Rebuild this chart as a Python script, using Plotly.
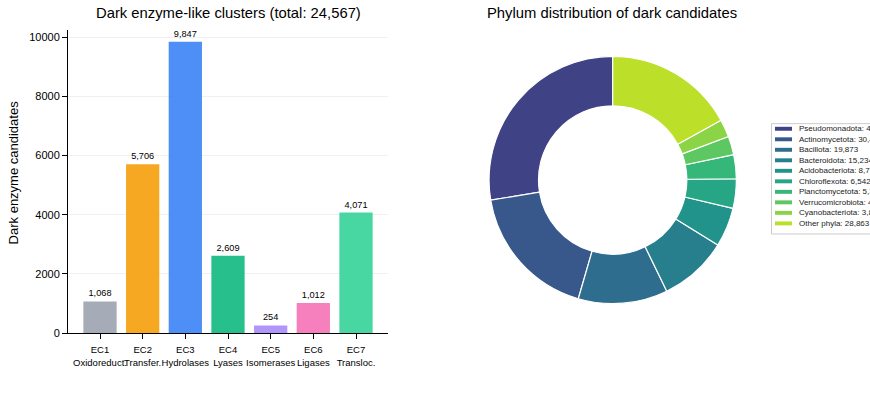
import plotly.graph_objects as go
from plotly.colors import sample_colorscale
import numpy as np

# ---------------- data ----------------
ec_codes = ["EC1", "EC2", "EC3", "EC4", "EC5", "EC6", "EC7"]
ec_names = ["Oxidoreduct.", "Transfer.", "Hydrolases", "Lyases", "Isomerases", "Ligases", "Transloc."]
ec_counts = [1068, 5706, 9847, 2609, 254, 1012, 4071]
ec_colors = ["#9CA3AF", "#F59E0B", "#3B82F6", "#10B981", "#A78BFA", "#F472B6", "#34D399"]
y_ticks = [0, 2000, 4000, 6000, 8000, 10000]

phyla = ["Pseudomonadota", "Actinomycetota", "Bacillota", "Bacteroidota", "Acidobacteriota",
         "Chloroflexota", "Planctomycetota", "Verrucomicrobiota", "Cyanobacteriota", "Other phyla"]
phyla_counts = [46912, 30418, 19873, 15234, 8731, 6542, 5318, 4127, 3896, 28863]

total_ec = sum(ec_counts)

W, H = 870, 406
FONT = "Liberation Sans, Arial, Helvetica, sans-serif"

def px_x(x):
    return x / W

def px_y(y):
    return 1 - y / H

pie_colors = sample_colorscale("Viridis", list(np.linspace(0.2, 0.9, len(phyla))))

categories = [f"{c}<br>{n}" for c, n in zip(ec_codes, ec_names)]

fig = go.Figure()

fig.add_trace(go.Bar(
    x=categories, y=ec_counts,
    marker=dict(color=ec_colors, opacity=0.9, line=dict(width=0)),
    texttemplate="%{y:,}", textposition="outside",
    textfont=dict(size=9.2, color="black", family=FONT),
    cliponaxis=False, showlegend=False, width=0.78,
    xaxis="x", yaxis="y",
))

# start the first slice at 12 o'clock, running counterclockwise
first_angle = 360.0 * phyla_counts[0] / sum(phyla_counts)

pie_cx, pie_cy, pie_r = 612.7, 182.7, 125.5
fig.add_trace(go.Pie(
    labels=phyla, values=phyla_counts,
    marker=dict(colors=pie_colors, line=dict(color="white", width=1.2)),
    hole=0.6, sort=False, direction="counterclockwise", rotation=-first_angle,
    textinfo="none", showlegend=False, hoverinfo="label+value",
    domain=dict(x=[px_x(pie_cx - pie_r), px_x(pie_cx + pie_r)],
                y=[px_y(pie_cy + pie_r), px_y(pie_cy - pie_r)]),
))

shapes = []
annotations = []

# titles
annotations.append(dict(text=f"Dark enzyme-like clusters (total: {total_ec:,})",
                        x=px_x(228.5), y=px_y(13), xref="paper", yref="paper",
                        showarrow=False, xanchor="center", yanchor="middle",
                        font=dict(size=14.8, color="black", family=FONT)))
annotations.append(dict(text="Phylum distribution of dark candidates",
                        x=px_x(612), y=px_y(13), xref="paper", yref="paper",
                        showarrow=False, xanchor="center", yanchor="middle",
                        font=dict(size=14.8, color="black", family=FONT)))
# y-axis title
annotations.append(dict(text="Dark enzyme candidates", textangle=-90,
                        x=px_x(13), y=px_y(175), xref="paper", yref="paper",
                        showarrow=False, xanchor="center", yanchor="middle",
                        font=dict(size=13, color="black", family=FONT)))

# manual legend for the donut
leg_left, leg_top, leg_bot = 771.5, 125.5, 237.5
shapes.append(dict(type="rect", xref="paper", yref="paper",
                   x0=px_x(leg_left), x1=px_x(leg_left + 200),
                   y0=px_y(leg_bot), y1=px_y(leg_top),
                   line=dict(color="#cccccc", width=1), fillcolor="white", layer="above"))
y0 = 130.7
dy = 10.67
for i, (name, val, col) in enumerate(zip(phyla, phyla_counts, pie_colors)):
    yc = y0 + i * dy
    shapes.append(dict(type="rect", xref="paper", yref="paper",
                       x0=px_x(775), x1=px_x(792), y0=px_y(yc + 2), y1=px_y(yc - 2),
                       line=dict(width=0), fillcolor=col, layer="above"))
    annotations.append(dict(text=f"{name}: {val:,}", x=px_x(796.5), y=px_y(yc),
                            xref="paper", yref="paper", showarrow=False,
                            xanchor="left", yanchor="middle",
                            font=dict(size=8, color="#222222", family=FONT)))

fig.update_layout(
    width=W, height=H,
    margin=dict(l=0, r=0, t=0, b=0),
    paper_bgcolor="white", plot_bgcolor="white",
    font=dict(family=FONT, color="black"),
    xaxis=dict(domain=[px_x(68), px_x(388)], range=[-0.75, 6.75],
               showline=True, linecolor="black", linewidth=1,
               ticks="outside", ticklen=5, tickcolor="black", tickangle=0,
               ticklabelstandoff=3,
               tickfont=dict(size=9.5, color="black"), showgrid=False,
               fixedrange=True),
    yaxis=dict(domain=[px_y(338), px_y(30)], range=[0, 10260],
               tickvals=y_ticks, ticktext=[str(v) for v in y_ticks],
               showline=True, linecolor="black", linewidth=1,
               ticks="outside", ticklen=5, tickcolor="black",
               tickfont=dict(size=11, color="black"),
               showgrid=True, gridcolor="#f0f0f0", gridwidth=1, zeroline=False),
    bargap=0.22,
    shapes=shapes, annotations=annotations,
)

fig.write_html("out.html")
